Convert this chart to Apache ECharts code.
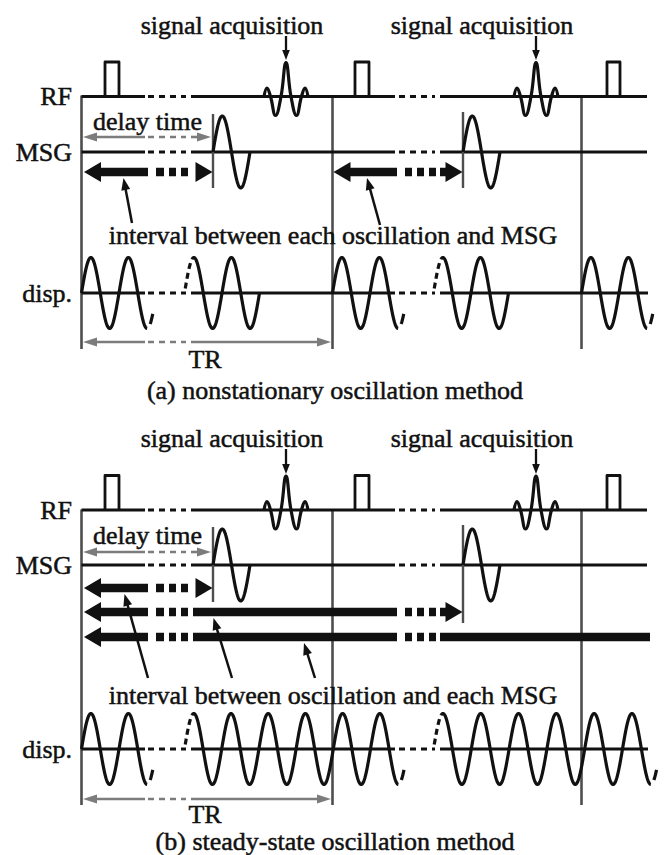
<!DOCTYPE html>
<html>
<head>
<meta charset="utf-8">
<script src="https://cdn.jsdelivr.net/npm/echarts@6/dist/echarts.min.js"></script>
<style>
  html, body { margin: 0; padding: 0; background: #fff; }
  #chart { width: 666px; height: 855px; }
</style>
</head>
<body>
<div id="chart"></div>
<script>
// ---------- timing of the pulse sequence (horizontal units) ----------
const trStarts   = [81.5, 332.5, 581.5];            // start of each repetition (TR)
const rfPulses   = [[105, 119], [355, 369], [607, 620]];
const acqCenters = [286, 536];                      // centre of each echo readout
const msgOnsets  = [213, 463];                      // onset of the motion-sensitizing gradient
const traceEnd   = 647;
const timeBreaks = [[145, 191], [395, 440]];        // "..." breaks in the time axis
const thinDashes = [[148, 186], [399, 435]];
const thickBreaks = [[148, 193], [397, 440]];
const thickBlocks = [[[156, 164], [169, 176], [181, 188]], [[405, 412], [417, 424], [429, 436]]];

// echo waveform: [offset from centre, height above baseline]
const acqShape = [[-22, 0], [-19, 8.5], [-15.5, 0], [-10.5, -19], [-5, 0], [0, 34], [5, 0], [10.5, -19], [15.5, 0], [19, 8.5], [22, 0]];

// MSG waveform: one cycle [period, amplitude]
const msgWave = [37, 36];

// displacement bursts: [onset, period, cycles, dashed lead-in, dashed tail]
const dispBurstsA = [
  [81.5, 37.5, 1.75, false, true],
  [184.5, 37.5, 2, true, false],
  [332.5, 37.5, 1.75, false, true],
  [433.5, 37.5, 2, true, false],
  [581.5, 37.5, 1.75, false, true]
];
const dispBurstsB = [
  [81.5, 37.5, 1.75, false, true],
  [184.5, 37.2, 5.75, true, true],
  [433.5, 37.8, 5.75, true, true]
];
const dispAmp = 35.5;

// "interval" arrows: [left tip, right end, has right head]
const intervalsA = [[84, 212.5, true], [333.5, 462.5, true]];
const intervalsB = [[84, 212.5, true], [84, 462.5, true], [84, 650, false]];

// span arrows
const delaySpan = [83, 211];
const trSpan    = [83, 331];

// text
const rowLabels  = ['RF', 'MSG', 'disp.'];
const acqLabel   = 'signal acquisition';
const delayLabel = 'delay time';
const trLabel    = 'TR';
const intervalLabels = ['interval between each oscillation and MSG', 'interval between oscillation and each MSG'];
const captions   = ['(a) nonstationary oscillation method', '(b) steady-state oscillation method'];

// ---------- panel layout ----------
const panels = [
  { rf: 96.5, msg: 152, disp: 293, acqText: 25, acqArrow: [36, 60], delay: 137, delayText: 121,
    intervalRows: [172], intervals: intervalsA, intervalText: 235,
    pointers: [[132, 223, 123.5, 178], [380, 225, 367, 178]],
    tr: 342, trText: 359, caption: 390, vTop: 95.5, vBot: 349,
    msgMarks: [[114, 188], [112, 188]], bursts: dispBurstsA },
  { rf: 510, msg: 565, disp: 749, acqText: 438, acqArrow: [449, 474], delay: 552, delayText: 535,
    intervalRows: [588, 612, 637], intervals: intervalsB, intervalText: 695,
    pointers: [[148, 678, 124.5, 594], [232, 678, 213.5, 618], [315, 678, 304, 643]],
    tr: 799, trText: 814, caption: 841.5, vTop: 509.5, vBot: 805,
    msgMarks: [[527, 602], [525, 623]], bursts: dispBurstsB }
];

// ---------- mark builders ----------
const INK = '#111', GREY = '#7c7c7c', RULE = '#4e4e4e';
const FONT_FAMILY = 'Liberation Serif';
const LW = 2.8;      // trace weight
const WW = 3.2;      // waveform weight
const marks = [];

function line(pts, w, c, dash, smooth) { marks.push({ t: 'line', pts, w, c, dash, smooth }); }
function fill(pts, c) { marks.push({ t: 'fill', pts, c }); }
function text(x, y, s, align) { marks.push({ t: 'text', x, y, s, align: align || 'center' }); }

function head(tipX, tipY, fromX, fromY, len, half, c) {
  const dx = tipX - fromX, dy = tipY - fromY, L = Math.hypot(dx, dy);
  const ux = dx / L, uy = dy / L;
  const bx = tipX - ux * len, by = tipY - uy * len;
  fill([[tipX, tipY], [bx - uy * half, by + ux * half], [bx + uy * half, by - ux * half]], c);
}

function brokenTrace(y, x0, x1, w, c) {
  let cur = x0;
  timeBreaks.forEach(([b0, b1], i) => {
    if (b1 <= x0 || b0 >= x1) return;
    if (b0 > cur) line([[cur, y], [Math.min(b0, x1), y]], w, c);
    const d0 = Math.max(thinDashes[i][0], x0), d1 = Math.min(thinDashes[i][1], x1);
    if (d1 > d0) line([[d0, y], [d1, y]], w, c, [6, 5]);
    cur = Math.max(b1, cur);
  });
  if (x1 > cur) line([[cur, y], [x1, y]], w, c);
}

function thickArrow(y, x0, x1, rightHead) {
  const HL = 17, HH = 10, SW = 8.5;
  fill([[x0, y], [x0 + HL, y - HH], [x0 + HL, y + HH]], INK);
  if (rightHead) fill([[x1, y], [x1 - HL, y - HH], [x1 - HL, y + HH]], INK);
  const s0 = x0 + HL - 1, s1 = rightHead ? x1 - HL + 1 : x1;
  let cur = s0;
  thickBreaks.forEach(([b0, b1], i) => {
    if (b1 <= s0 || b0 >= s1) return;
    if (b0 > cur) line([[cur, y], [Math.min(b0, s1), y]], SW, INK);
    thickBlocks[i].forEach(([a, b]) => { if (b <= s1 && a >= s0) line([[a, y], [b, y]], SW, INK); });
    cur = b1;
  });
  if (s1 - cur > 5) line([[cur, y], [s1, y]], SW, INK);
}

function greyArrow(y, x0, x1) {
  const HL = 14, HH = 4.5;
  head(x0, y, x0 + 1, y, HL, HH, GREY);
  head(x1, y, x1 - 1, y, HL, HH, GREY);
  brokenTrace(y, x0 + HL - 1, x1 - HL + 1, 2.6, GREY);
}

function sine(x0, period, amp, base, ph0, ph1) {
  const pts = [];
  const n = Math.max(2, Math.ceil((ph1 - ph0) / 0.01));
  for (let i = 0; i <= n; i++) {
    const ph = ph0 + (ph1 - ph0) * i / n;
    pts.push([x0 + period * ph, base - amp * Math.sin(2 * Math.PI * ph)]);
  }
  return pts;
}

function burst(b, base) {
  const [x0, period, cycles, lead, tail] = b;
  if (lead) line(sine(x0, period, dispAmp, base, 0.02, 0.2), WW, INK, [6, 4]);
  line(sine(x0, period, dispAmp, base, lead ? 0.2 : 0, cycles), WW, INK);
  if (tail) line(sine(x0, period, dispAmp, base, cycles + 0.08, cycles + 0.15), WW, INK);
}

// ---------- build both panels ----------
panels.forEach((p, k) => {
  // repetition boundaries
  trStarts.forEach(x => line([[x, p.vTop], [x, p.vBot]], 2.6, RULE));

  // RF row
  brokenTrace(p.rf, trStarts[0], traceEnd, LW, INK);
  rfPulses.forEach(([a, b]) => line([[a, p.rf], [a, p.rf - 34.5], [b, p.rf - 34.5], [b, p.rf]], LW, INK));
  acqCenters.forEach(c => {
    line(acqShape.map(([dx, h]) => [c + dx, p.rf - h]), WW, INK, null, 0.45);
    line([[c, p.acqArrow[0]], [c, p.acqArrow[1] - 8]], 2.3, INK);
    head(c, p.acqArrow[1], c, p.acqArrow[0], 10, 3.8, INK);
    text(c - 54, p.acqText, acqLabel);
  });

  // MSG row
  brokenTrace(p.msg, trStarts[0], traceEnd, LW, INK);
  msgOnsets.forEach((x, i) => {
    line([[x, p.msgMarks[i][0]], [x, p.msgMarks[i][1]]], 2.4, RULE);
    line(sine(x, msgWave[0], msgWave[1], p.msg, 0, 1), WW, INK);
  });

  // delay time
  greyArrow(p.delay, delaySpan[0], delaySpan[1]);
  text(147.5, p.delayText, delayLabel);

  // interval arrows and pointers
  p.intervals.forEach((iv, i) => {
    const y = p.intervalRows[Math.min(i, p.intervalRows.length - 1)];
    thickArrow(y, iv[0], iv[1], iv[2]);
  });
  p.pointers.forEach(([x0, y0, x1, y1]) => {
    line([[x0, y0], [x1 + (x0 - x1) * 0.12, y1 + (y0 - y1) * 0.12]], 2.5, INK);
    head(x1, y1, x0, y0, 12, 4.5, INK);
  });
  text(333, p.intervalText, intervalLabels[k]);

  // displacement row
  brokenTrace(p.disp, trStarts[0], 648, LW, INK);
  p.bursts.forEach(b => burst(b, p.disp));

  // TR span
  greyArrow(p.tr, trSpan[0], trSpan[1]);
  text(205, p.trText, trLabel);

  // row labels and caption
  text(72, p.rf, rowLabels[0], 'right');
  text(72, p.msg, rowLabels[1], 'right');
  text(72, p.disp, rowLabels[2], 'right');
  text(335, p.caption, captions[k]);
});

// ---------- chart ----------
const chart = echarts.init(document.getElementById('chart'), null, { renderer: 'svg' });

function renderItem(params, api) {
  const m = marks[params.dataIndex];
  if (m.t === 'text') {
    const [x, y] = api.coord([m.x, m.y]);
    return {
      type: 'text', x, y,
      style: {
        text: m.s, fill: INK, stroke: INK, lineWidth: 0.5,
        fontFamily: FONT_FAMILY, fontSize: 26, lineHeight: 26,
        align: m.align, verticalAlign: 'middle'
      }
    };
  }
  const pts = m.pts.map(pt => api.coord(pt));
  if (m.t === 'fill') {
    return { type: 'polygon', shape: { points: pts }, style: { fill: m.c, stroke: null } };
  }
  return {
    type: 'polyline',
    shape: { points: pts, smooth: m.smooth || 0 },
    style: { stroke: m.c, lineWidth: m.w, fill: null, lineDash: m.dash || null, lineJoin: 'round' }
  };
}

chart.setOption({
  animation: false,
  backgroundColor: '#fff',
  grid: { left: 0, right: 0, top: 0, bottom: 0 },
  xAxis: { type: 'value', min: 0, max: 666, show: false },
  yAxis: { type: 'value', min: 0, max: 855, inverse: true, show: false },
  series: [{
    type: 'custom',
    coordinateSystem: 'cartesian2d',
    renderItem,
    clip: false,
    silent: true,
    data: marks.map(() => [0, 0])
  }]
});
</script>
</body>
</html>
